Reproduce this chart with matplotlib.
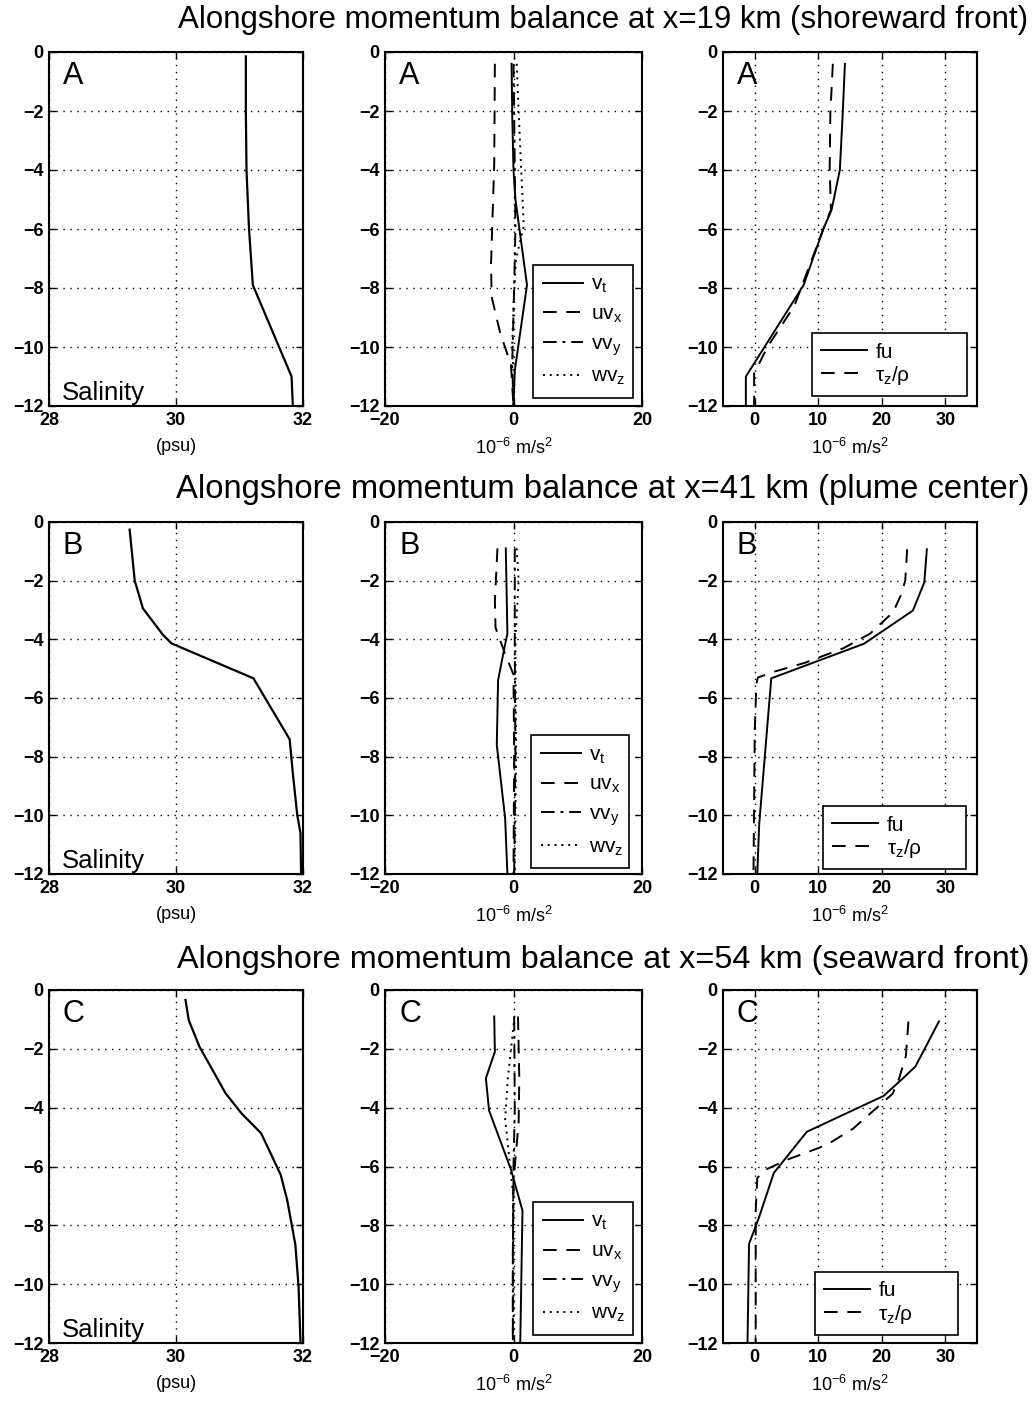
import matplotlib
matplotlib.use('Agg')
import matplotlib.pyplot as plt

plt.rcParams['font.family'] = ['Liberation Sans', 'DejaVu Sans']
plt.rcParams['mathtext.fontset'] = 'custom'
plt.rcParams['mathtext.rm'] = 'Liberation Sans'
plt.rcParams['mathtext.it'] = 'Liberation Sans'

# ---- datos (profundidad en m, negativa hacia abajo) ----
titulos = ['Alongshore momentum balance at x=19 km (shoreward front)',
           'Alongshore momentum balance at x=41 km (plume center)',
           'Alongshore momentum balance at x=54 km (seaward front)']
letras = ['A', 'B', 'C']

# Salinidad
sal_a_z = [-0.15, -2, -4, -6, -7.9, -11.0, -12]
sal_a = [31.10, 31.10, 31.11, 31.15, 31.21, 31.82, 31.84]
sal_b_z = [-0.26, -2.0, -2.95, -3.86, -4.14, -5.33, -7.41, -8.57, -10.0, -10.6, -12]
sal_b = [29.27, 29.35, 29.48, 29.80, 29.93, 31.22, 31.79, 31.84, 31.91, 31.96, 31.97]
sal_c_z = [-0.34, -1.02, -1.93, -2.66, -3.51, -4.19, -4.87, -5.55, -6.29, -7.13, -8.66, -10.08, -11.95]
sal_c = [30.15, 30.20, 30.37, 30.56, 30.78, 31.03, 31.34, 31.49, 31.65, 31.75, 31.88, 31.93, 31.96]

# Terminos advectivos (10^-6 m/s^2)
vt_a_z = [-0.4, -2.1, -4.0, -5.0, -7.9, -10.8, -12]
vt_a = [-0.3, -0.2, 0.0, 0.3, 2.1, 0.2, 0.0]
uvx_a_z = [-0.4, -3.8, -7.2, -8.3, -9.5, -10.6, -12]
uvx_a = [-2.9, -3.0, -3.5, -3.4, -2.1, -0.4, 0.0]
vvy_a_z = [-0.4, -4.0, -6.0, -8.0, -10.6, -12]
vvy_a = [0.0, 0.2, 0.3, 0.1, -0.2, 0.0]
wvz_a_z = [-0.4, -2.0, -4.0, -5.9, -7.0, -8.5, -10.0, -10.8]
wvz_a = [0.5, 0.8, 1.2, 1.6, 0.4, 0.0, -0.2, 0.0]

vt_b_z = [-0.9, -3.8, -4.5, -5.4, -7.6, -10.1, -12]
vt_b = [-1.2, -0.95, -1.6, -2.4, -2.6, -1.3, -0.95]
uvx_b_z = [-0.9, -2.7, -3.6, -4.5, -5.2, -8.0, -12]
uvx_b = [-2.5, -2.9, -2.8, -1.3, 0.0, 0.1, 0.0]
vvy_b_z = [-0.9, -4.0, -8.0, -12]
vvy_b = [0.2, 0.2, 0.3, 0.1]
wvz_b_z = [-0.9, -2.0, -4.0, -8.0, -12]
wvz_b = [0.5, 0.8, 0.3, 0.4, 0.2]

vt_c_z = [-0.9, -2.1, -3.0, -4.1, -6.1, -7.5, -12]
vt_c = [-3.0, -2.9, -4.3, -3.8, -0.4, 1.4, 1.05]
uvx_c_z = [-0.9, -3.0, -4.5, -5.5, -6.5, -9.0, -12]
uvx_c = [0.7, 0.9, 0.8, 0.4, 0.0, -0.1, -0.1]
vvy_c_z = [-0.9, -4.0, -6.0, -9.0, -12]
vvy_c = [0.1, 0.2, 0.0, -0.1, -0.1]
wvz_c_z = [-0.9, -3.05, -4.4, -5.8, -6.9, -9.0, -12]
wvz_c = [0.15, -0.9, -1.3, -0.6, -0.1, 0.0, 0.0]

# Coriolis y friccion (10^-6 m/s^2)
fu_a_z = [-0.4, -2.1, -4.0, -5.35, -6.0, -7.9, -11.0, -12]
fu_a = [14.2, 13.85, 13.4, 12.1, 10.8, 7.7, -1.4, -1.4]
tau_a_z = [-0.4, -2.1, -4.0, -5.35, -6.0, -8.6, -10.0, -10.9, -12]
tau_a = [12.3, 11.9, 11.8, 12.0, 10.8, 6.25, 2.0, -0.1, -0.1]

fu_b_z = [-0.93, -2.06, -3.02, -4.15, -5.33, -10.3, -12]
fu_b = [27.1, 26.7, 24.9, 17.2, 2.6, 0.7, 0.4]
tau_b_z = [-0.93, -2.0, -2.5, -3.07, -3.8, -4.3, -4.8, -5.1, -5.3, -5.5, -7.1, -12]
tau_b = [24.0, 23.7, 23.0, 21.8, 18.2, 14.0, 7.9, 3.1, 0.5, 0.26, 0.0, -0.2]

fu_c_z = [-1.07, -1.9, -2.6, -3.03, -3.6, -4.82, -6.22, -7.73, -8.63, -12]
fu_c = [29.0, 27.0, 25.3, 23.2, 20.3, 8.2, 3.0, 0.67, -0.9, -1.14]
tau_c_z = [-1.07, -2.24, -3.03, -3.53, -4.71, -5.27, -5.77, -6.11, -6.39, -7.5, -12]
tau_c = [24.2, 23.8, 22.7, 21.7, 15.5, 11.3, 5.1, 1.7, 0.4, 0.15, 0.15]

sal = [(sal_a_z, sal_a), (sal_b_z, sal_b), (sal_c_z, sal_c)]
adv = [[(vt_a_z, vt_a), (uvx_a_z, uvx_a), (vvy_a_z, vvy_a), (wvz_a_z, wvz_a)],
       [(vt_b_z, vt_b), (uvx_b_z, uvx_b), (vvy_b_z, vvy_b), (wvz_b_z, wvz_b)],
       [(vt_c_z, vt_c), (uvx_c_z, uvx_c), (vvy_c_z, vvy_c), (wvz_c_z, wvz_c)]]
cor = [[(fu_a_z, fu_a), (tau_a_z, tau_a)],
       [(fu_b_z, fu_b), (tau_b_z, tau_b)],
       [(fu_c_z, fu_c), (tau_c_z, tau_c)]]

adv_labels = ['v$_t$', 'uv$_x$', 'vv$_y$', 'wv$_z$']
cor_labels = ['fu', '$\\tau_z$/$\\rho$']
estilos = ['-', (0, (7, 5)), (0, (7, 3, 1.5, 3)), (0, (1, 2.5))]

# posiciones de los ejes en pixeles (izq, ancho) y (arriba, abajo)
cols = [(49, 254), (385, 257), (723, 254)]
rows = [(52, 406), (522, 874), (990, 1343)]
titulo_y = [20, 490, 960]
titulo_size = [22.5, 23.6, 23.3]  # los tres titulos ocupan el mismo ancho
# cajas de leyenda en fraccion de ejes (x0, y0, ancho)
leg_adv = [(0.576, 0.023, 0.389), (0.568, 0.017, 0.381), (0.576, 0.023, 0.389)]
leg_cor = [(0.350, 0.028, 0.610), (0.394, 0.014, 0.563), (0.362, 0.023, 0.563)]
W, H = 1034, 1404


def etiquetas(vals):
  return ['\u2212%d' % -v if v < 0 else '%d' % v for v in vals]


def estilo_ejes(ax, xlim, xticks, xlabel):
  ax.set_xlim(xlim)
  ax.set_ylim(-12, 0)
  ax.set_xticks(xticks)
  ax.set_yticks(range(-12, 1, 2))
  ax.set_yticklabels(etiquetas(range(-12, 1, 2)))
  ax.set_xticklabels(etiquetas(xticks))
  ax.grid(True, color='black', linestyle=(0, (1, 4)), linewidth=1.0)
  ax.tick_params(direction='in', length=5, width=1, top=True, right=True,
                 labelsize=13, pad=4)
  for lab in ax.get_xticklabels() + ax.get_yticklabels():
    lab.set_fontweight('bold')
  for s in ax.spines.values():
    s.set_linewidth(1.5)
  ax.set_xlabel(xlabel, fontsize=13, labelpad=7)


def leyenda(ax, caja, espacio, pad, largo):
  x0, y0, w = caja
  leg = ax.legend(loc='lower left', bbox_to_anchor=(x0, y0, w, 0.5), mode='expand',
                  fontsize=15, handlelength=largo, handletextpad=0.4, fancybox=False,
                  edgecolor='black', framealpha=1, borderaxespad=0,
                  labelspacing=espacio, borderpad=pad)
  leg.get_frame().set_linewidth(1.2)


fig = plt.figure(figsize=(W / 100, H / 100), dpi=100)

for i in range(3):
  top, bot = rows[i]
  y0 = 1 - bot / H
  h = (bot - top) / H
  fig.text(0.583, 1 - titulo_y[i] / H, titulos[i], ha='center', va='center',
           fontsize=titulo_size[i])

  # salinidad
  ax = fig.add_axes([cols[0][0] / W, y0, cols[0][1] / W, h])
  ax.plot(sal[i][1], sal[i][0], color='black', linewidth=1.6)
  estilo_ejes(ax, (28, 32), [28, 30, 32], '(psu)')
  ax.text(0.05, 0.003, 'Salinity', transform=ax.transAxes, fontsize=18.5, va='bottom')
  ax.text(0.055, 0.975, letras[i], transform=ax.transAxes, fontsize=22, va='top')

  # terminos advectivos
  ax = fig.add_axes([cols[1][0] / W, y0, cols[1][1] / W, h])
  for (z, v), ls, lab in zip(adv[i], estilos, adv_labels):
    ax.plot(v, z, color='black', linestyle=ls, linewidth=1.4, label=lab)
  estilo_ejes(ax, (-20, 20), [-20, 0, 20], '10$^{-6}$ m/s$^2$')
  ax.text(0.055, 0.975, letras[i], transform=ax.transAxes, fontsize=22, va='top')
  leyenda(ax, leg_adv[i], 0.45, 0.5, 1.9)

  # coriolis y friccion
  ax = fig.add_axes([cols[2][0] / W, y0, cols[2][1] / W, h])
  for (z, v), ls, lab in zip(cor[i], estilos[:2], cor_labels):
    ax.plot(v, z, color='black', linestyle=ls, linewidth=1.4, label=lab)
  estilo_ejes(ax, (-5, 35), [0, 10, 20, 30], '10$^{-6}$ m/s$^2$')
  ax.text(0.055, 0.975, letras[i], transform=ax.transAxes, fontsize=22, va='top')
  leyenda(ax, leg_cor[i], 0.1, 0.45, 2.2)

fig.savefig('out.png', dpi=100)
